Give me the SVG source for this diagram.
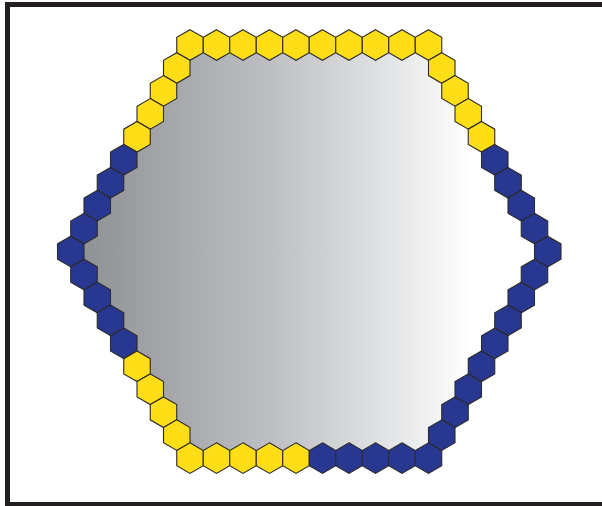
<svg xmlns="http://www.w3.org/2000/svg" xmlns:xlink="http://www.w3.org/1999/xlink" width="602" height="506" viewBox="0 0 602 506">
<style>
.y{fill:#ffdd17;stroke:#2b2a2c;stroke-width:1.1;stroke-linejoin:miter}
.b{fill:#283891;stroke:#2b2a2c;stroke-width:1.1;stroke-linejoin:miter}
.frame{fill:none;stroke:#231f20;stroke-width:5}
</style>
<defs>
<linearGradient id="g" gradientUnits="userSpaceOnUse" x1="70" y1="0" x2="472" y2="0">
<stop offset="0" stop-color="#8c8e92"/>
<stop offset="0.5" stop-color="#bdbfc2"/>
<stop offset="0.82" stop-color="#e6e7e8"/>
<stop offset="1" stop-color="#ffffff"/>
</linearGradient>
<polygon id="hx" points="0,-15.3 13.25,-7.65 13.25,7.65 0,15.3 -13.25,7.65 -13.25,-7.65"/>
</defs>
<rect width="602" height="506" fill="#ffffff"/>
<rect class="frame" x="7.5" y="4.5" width="620" height="500"/>
<polygon id="interior" points="190,45 428.5,45 547.75,251.55 428.5,458.1 190,458.1 70.75,251.55" fill="url(#g)"/>
<g id="top-row">
<use id="t1" href="#hx" class="y" x="190" y="45"/>
<use id="t2" href="#hx" class="y" x="216.5" y="45"/>
<use id="t3" href="#hx" class="y" x="243" y="45"/>
<use id="t4" href="#hx" class="y" x="269.5" y="45"/>
<use id="t5" href="#hx" class="y" x="296" y="45"/>
<use id="t6" href="#hx" class="y" x="322.5" y="45"/>
<use id="t7" href="#hx" class="y" x="349" y="45"/>
<use id="t8" href="#hx" class="y" x="375.5" y="45"/>
<use id="t9" href="#hx" class="y" x="402" y="45"/>
<use id="t10" href="#hx" class="y" x="428.5" y="45"/>
</g>
<g id="upper-left">
<use id="ul1" href="#hx" class="y" x="176.75" y="67.95"/>
<use id="ul2" href="#hx" class="y" x="163.5" y="90.9"/>
<use id="ul3" href="#hx" class="y" x="150.25" y="113.85"/>
<use id="ul4" href="#hx" class="y" x="137" y="136.8"/>
<use id="ul5" href="#hx" class="b" x="123.75" y="159.75"/>
<use id="ul6" href="#hx" class="b" x="110.5" y="182.7"/>
<use id="ul7" href="#hx" class="b" x="97.25" y="205.65"/>
<use id="ul8" href="#hx" class="b" x="84" y="228.6"/>
<use id="ul9" href="#hx" class="b" x="70.75" y="251.55"/>
</g>
<g id="lower-left">
<use id="ll1" href="#hx" class="b" x="84" y="274.5"/>
<use id="ll2" href="#hx" class="b" x="97.25" y="297.45"/>
<use id="ll3" href="#hx" class="b" x="110.5" y="320.4"/>
<use id="ll4" href="#hx" class="b" x="123.75" y="343.35"/>
<use id="ll5" href="#hx" class="y" x="137" y="366.3"/>
<use id="ll6" href="#hx" class="y" x="150.25" y="389.25"/>
<use id="ll7" href="#hx" class="y" x="163.5" y="412.2"/>
<use id="ll8" href="#hx" class="y" x="176.75" y="435.15"/>
</g>
<g id="upper-right">
<use id="ur1" href="#hx" class="y" x="441.75" y="67.95"/>
<use id="ur2" href="#hx" class="y" x="455" y="90.9"/>
<use id="ur3" href="#hx" class="y" x="468.25" y="113.85"/>
<use id="ur4" href="#hx" class="y" x="481.5" y="136.8"/>
<use id="ur5" href="#hx" class="b" x="494.75" y="159.75"/>
<use id="ur6" href="#hx" class="b" x="508" y="182.7"/>
<use id="ur7" href="#hx" class="b" x="521.25" y="205.65"/>
<use id="ur8" href="#hx" class="b" x="534.5" y="228.6"/>
<use id="ur9" href="#hx" class="b" x="547.75" y="251.55"/>
</g>
<g id="lower-right">
<use id="lr1" href="#hx" class="b" x="534.5" y="274.5"/>
<use id="lr2" href="#hx" class="b" x="521.25" y="297.45"/>
<use id="lr3" href="#hx" class="b" x="508" y="320.4"/>
<use id="lr4" href="#hx" class="b" x="494.75" y="343.35"/>
<use id="lr5" href="#hx" class="b" x="481.5" y="366.3"/>
<use id="lr6" href="#hx" class="b" x="468.25" y="389.25"/>
<use id="lr7" href="#hx" class="b" x="455" y="412.2"/>
<use id="lr8" href="#hx" class="b" x="441.75" y="435.15"/>
</g>
<g id="bottom-row">
<use id="b1" href="#hx" class="y" x="190" y="458.1"/>
<use id="b2" href="#hx" class="y" x="216.5" y="458.1"/>
<use id="b3" href="#hx" class="y" x="243" y="458.1"/>
<use id="b4" href="#hx" class="y" x="269.5" y="458.1"/>
<use id="b5" href="#hx" class="y" x="296" y="458.1"/>
<use id="b6" href="#hx" class="b" x="322.5" y="458.1"/>
<use id="b7" href="#hx" class="b" x="349" y="458.1"/>
<use id="b8" href="#hx" class="b" x="375.5" y="458.1"/>
<use id="b9" href="#hx" class="b" x="402" y="458.1"/>
<use id="b10" href="#hx" class="b" x="428.5" y="458.1"/>
</g>
</svg>
